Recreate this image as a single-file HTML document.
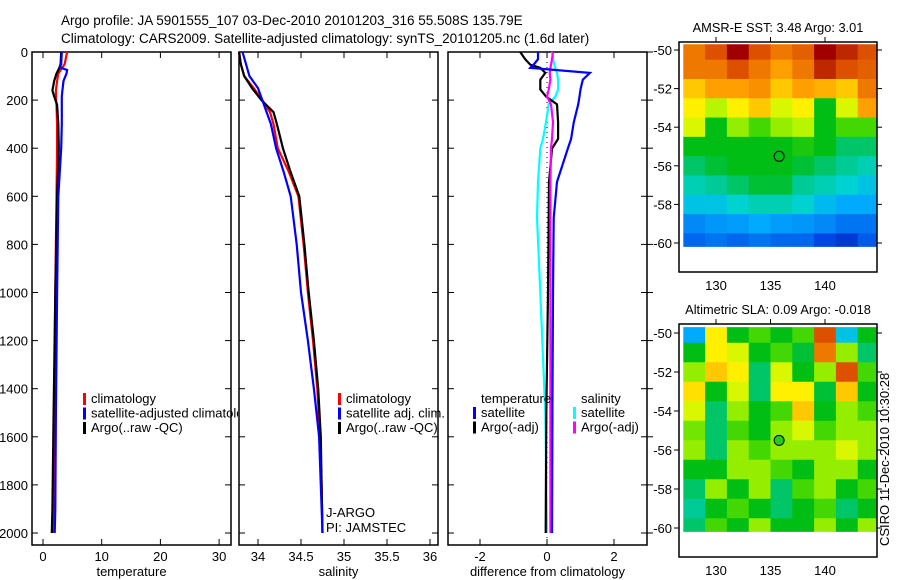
<!DOCTYPE html>
<html><head><meta charset="utf-8">
<style>
html,body{margin:0;padding:0;background:#fff;}
svg{display:block;font-family:"Liberation Sans",sans-serif;}
</style></head>
<body>
<svg id="fig" width="900" height="580" viewBox="0 0 900 580" xmlns="http://www.w3.org/2000/svg">
<text x="61" y="25" font-size="13.5">Argo profile: JA 5901555_107 03-Dec-2010 20101203_316 55.508S 135.79E</text>
<text x="61" y="43" font-size="13.5">Climatology: CARS2009. Satellite-adjusted climatology: synTS_20101205.nc (1.6d later)</text>
<defs><clipPath id="leg1clip"><rect x="32" y="0" width="206" height="580"/></clipPath></defs>
<g id="g"></g>
</svg>
<script>
// ---------- data ----------
const depthsT = [0,50,65,75,90,120,160,185,220,300,400,600,1000,1500,1900,2000];
const tempClim = [4.1,3.7,3.3,3.0,2.6,2.4,2.2,2.2,2.3,2.4,2.4,2.3,2.1,1.9,1.8,1.8];
const tempArgo = [3.1,3.0,2.8,2.6,2.3,1.9,1.6,1.9,2.4,2.6,2.7,2.4,2.1,1.8,1.6,1.5];
const tempSat  = [3.2,3.1,2.9,4.1,4.0,3.5,3.3,3.2,3.2,3.2,3.1,2.6,2.4,2.2,2.1,2.0];
const depthsS = [0,50,100,150,200,250,300,400,500,600,800,1000,1200,1400,1600,1800,2000];
const salClim = [33.78,33.80,33.84,33.95,34.05,34.14,34.18,34.23,34.36,34.47,34.53,34.58,34.64,34.69,34.72,34.74,34.75];
const salArgo = [33.78,33.80,33.84,33.93,34.04,34.18,34.22,34.29,34.38,34.48,34.54,34.59,34.65,34.70,34.73,34.74,34.75];
const salSat  = [33.82,33.86,33.90,34.00,34.05,34.10,34.15,34.21,34.30,34.38,34.45,34.50,34.58,34.65,34.71,34.73,34.75];
const depthsD = [0,30,53,66,87,115,156,185,218,292,361,402,540,690,1000,1500,2000];
const dTempSat  = [-0.27,-0.27,-0.4,-0.5,1.28,1.07,1.0,0.97,0.93,0.8,0.72,0.62,0.3,0.2,0.18,0.16,0.15];
const dTempArgo = [-0.8,-0.65,-0.5,-0.2,-0.05,-0.2,-0.2,-0.03,0.3,0.33,0.33,0.15,0.06,0.05,0.03,-0.02,-0.04];
const dSalSat   = [0.15,0.18,0.22,0.25,0.3,0.33,0.33,0.25,0.05,-0.03,-0.12,-0.2,-0.27,-0.3,-0.2,-0.05,0.0];
const dSalArgo  = [0.18,0.15,0.12,0.1,0.08,0.1,0.05,0.0,0.12,0.18,0.15,0.12,0.1,0.1,0.1,0.1,0.1];
const depthTicks = [0,200,400,600,800,1000,1200,1400,1600,1800,2000];
const tempTicks = [0,10,20,30];
const salTicks = [34,34.5,35,35.5,36];
const diffTicks = [-2,0,2];
const lonTicks = [130,135,140];
const latTicks = [-50,-52,-54,-56,-58,-60];
const mapLons = [128,130,132,134,136,138,140,142,144];
const mapLats = [-50,-51,-52,-53,-54,-55,-56,-57,-58,-59,-60];
const sst = [
[.85,.9,1.0,.9,.85,.88,1.0,.95,.9],
[.85,.85,.9,.85,.8,.85,.95,.9,.88],
[.75,.8,.8,.82,.75,.8,.78,.75,.85],
[.7,.62,.7,.75,.65,.7,.5,.65,.8],
[.65,.5,.6,.55,.6,.62,.5,.55,.55],
[.5,.5,.5,.5,.5,.52,.5,.45,.45],
[.45,.48,.5,.5,.5,.48,.45,.42,.4],
[.4,.42,.45,.48,.48,.42,.4,.38,.35],
[.35,.35,.38,.4,.4,.38,.33,.3,.3],
[.25,.27,.28,.3,.28,.27,.25,.22,.22],
[.2,.22,.2,.22,.2,.2,.15,.12,.18]];
const sla = [
[.3,.7,.5,.55,.5,.55,.9,.35,.5],
[.5,.7,.65,.5,.55,.48,.85,.6,.45],
[.6,.75,.7,.45,.65,.5,.6,.9,.55],
[.72,.5,.65,.45,.7,.7,.48,.75,.5],
[.65,.45,.6,.5,.55,.75,.5,.6,.55],
[.58,.45,.55,.5,.6,.65,.55,.6,.6],
[.6,.45,.6,.55,.6,.6,.6,.65,.6],
[.5,.5,.6,.6,.55,.5,.6,.6,.5],
[.45,.6,.5,.6,.45,.55,.6,.5,.55],
[.42,.5,.55,.5,.45,.5,.55,.45,.5],
[.45,.55,.5,.6,.5,.5,.6,.5,.6]];
const argoLon = 135.79, argoLat = -55.508;

// ---------- helpers ----------
const NS="http://www.w3.org/2000/svg";
const G=document.getElementById('g');
function el(tag,attrs,parent){const e=document.createElementNS(NS,tag);for(const k in attrs)e.setAttribute(k,attrs[k]);(parent||G).appendChild(e);return e;}
function txt(x,y,s,size,anchor,parent){const t=el('text',{x:x,y:y,'font-size':size,'text-anchor':anchor||'start'},parent);t.textContent=s;return t;}
const yD = d => 52 + d*0.2405;
function panel(name,x0,x1,xs,ticks,fmt,xlabel,showY){
  const g=el('g',{});
  
  
  el('rect',{x:x0,y:52,width:x1-x0,height:493,fill:'none',stroke:'#000','stroke-width':1.5},g);
  ticks.forEach(v=>{const x=xs(v);
    el('line',{x1:x,x2:x,y1:545,y2:539,stroke:'#000'},g);
    el('line',{x1:x,x2:x,y1:52,y2:58,stroke:'#000'},g);
    const t=txt(x,561,fmt(v),13,'middle',g);
    
    
  });
  depthTicks.forEach(d=>{const y=yD(d);
    el('line',{x1:x0,x2:x0+6,y1:y,y2:y,stroke:'#000'},g);
    el('line',{x1:x1,x2:x1-6,y1:y,y2:y,stroke:'#000'},g);
    if(showY){const t=txt(28,y+5,String(d),13,'end',g);
      
      }
  });
  const xl=txt((x0+x1)/2,576,xlabel,13,'middle',g);
  
  
  return g;
}
function line(g,xs,vals,depths,color,name){
  const pts=vals.map((v,i)=>xs(v).toFixed(1)+','+yD(depths[i]).toFixed(1)).join(' ');
  const p=el('polyline',{points:pts,fill:'none',stroke:color,'stroke-width':2.2,'stroke-linejoin':'miter'},g);
  
  
}
function legend(g,x,y,items){
  items.forEach((it,i)=>{
    el('rect',{x:x,y:y+i*14.5-10,width:3,height:12,fill:it[1]},g);
    const t=txt(x+8,y+i*14.5,it[0],13,'start',g);
    
    
  });
}

// ---------- panel 1: temperature ----------
const xT = v => 43 + v*5.87;
const p1=panel('temperature-panel',32,231,xT,tempTicks,String,'temperature',true);
line(p1,xT,tempClim,depthsT,'#f00','temp-climatology-line');
line(p1,xT,tempArgo,depthsT,'#000','temp-argo-line');
line(p1,xT,tempSat,depthsT,'#00f','temp-satellite-line');
const leg1=el('g',{'clip-path':'url(#leg1clip)'},p1);
legend(leg1,83,403,[['climatology','#f00'],['satellite-adjusted climatology','#00f'],['Argo(..raw -QC)','#000']]);

// ---------- panel 2: salinity ----------
const xS = v => 258 + (v-34)*86;
const p2=panel('salinity-panel',239,438,xS,salTicks,String,'salinity',false);
line(p2,xS,salClim,depthsS,'#f00','sal-climatology-line');
line(p2,xS,salArgo,depthsS,'#000','sal-argo-line');
line(p2,xS,salSat,depthsS,'#00f','sal-satellite-line');
legend(p2,338,403,[['climatology','#f00'],['satellite adj. clim.','#00f'],['Argo(..raw -QC)','#000']]);
txt(326,517,'J-ARGO',13,'start',p2);
txt(326,532,'PI: JAMSTEC',13,'start',p2);

// ---------- panel 3: differences ----------
const xDf = v => 547 + v*33.5;
const p3=panel('difference-panel',448,647,xDf,diffTicks,String,'difference from climatology',false);
el('line',{x1:xDf(0),x2:xDf(0),y1:52,y2:545,stroke:'#000','stroke-dasharray':'1,4'},p3);
line(p3,xDf,dSalSat,depthsD,'#0ff','dsal-satellite-line');
line(p3,xDf,dTempArgo,depthsD,'#000','dtemp-argo-line');
line(p3,xDf,dSalArgo,depthsD,'#f0f','dsal-argo-line');
line(p3,xDf,dTempSat,depthsD,'#00f','dtemp-satellite-line');
txt(481,403,'temperature',13,'start',p3);
legend(p3,473,417,[['satellite','#00f'],['Argo(-adj)','#000']]);
txt(581,403,'salinity',13,'start',p3);
legend(p3,573,417,[['satellite','#0ff'],['Argo(-adj)','#f0f']]);
depthTicks.forEach(d=>el('line',{x1:647,x2:653,y1:yD(d),y2:yD(d),stroke:'#000'},p3));

// ---------- maps ----------
const cmapStops=[[0,[0,0,140]],[0.15,[0,70,230]],[0.3,[0,170,255]],[0.38,[0,210,210]],[0.44,[0,200,120]],[0.5,[0,190,20]],[0.56,[80,220,0]],[0.63,[200,250,0]],[0.7,[255,240,0]],[0.8,[255,160,0]],[0.9,[220,80,0]],[1,[160,0,0]]];
function cmap(v){
  v=Math.max(0,Math.min(1,v));
  for(let i=1;i<cmapStops.length;i++){
    if(v<=cmapStops[i][0]){const a=cmapStops[i-1],b=cmapStops[i];const t=(v-a[0])/(b[0]-a[0]);
      return 'rgb('+a[1].map((c,k)=>Math.round(c+(b[1][k]-c)*t)).join(',')+')';}
  }
  return 'rgb(160,0,0)';
}
function map(name,top,bot,latY0,latScale,grid,title,circleFill){
  const g=el('g',{});
  
  
  const xm = lon => 716 + (lon-130)*10.9;
  const ym = lat => latY0 + (-50-lat)*latScale;
  const cid=name+'-clip';
  const cp=el('clipPath',{id:cid},g);
  el('rect',{x:680,y:ym(-49.7),width:197,height:ym(-60.2)-ym(-49.7)},cp);
  const cells=el('g',{'clip-path':`url(#${cid})`},g);
  grid.forEach((row,i)=>row.forEach((v,j)=>{
    const r=el('rect',{x:xm(mapLons[j]-1),y:ym(mapLats[i]+0.5),width:10.9*2+0.5,height:latScale+0.5,fill:cmap(v)},cells);
    
    
  }));
  el('rect',{x:679,y:top,width:198,height:bot-top,fill:'none',stroke:'#000','stroke-width':1.5},g);
  lonTicks.forEach(l=>{const x=xm(l);
    el('line',{x1:x,x2:x,y1:top,y2:top-5,stroke:'#000'},g);
    txt(x,bot+18,String(l),13,'middle',g);});
  latTicks.forEach(l=>{const y=ym(l);
    el('line',{x1:679,x2:674,y1:y,y2:y,stroke:'#000'},g);
    el('line',{x1:877,x2:882,y1:y,y2:y,stroke:'#000'},g);
    txt(672,y+5,String(l),13,'end',g);});
  const c=el('circle',{cx:xm(argoLon),cy:ym(argoLat),r:5,fill:circleFill,stroke:'#000','stroke-width':1},g);
  
  
  const t=txt(778,top-10,title,12.8,'middle',g);
  
  
}
map('sst-map',42,272,50,19.3,sst,'AMSR-E SST: 3.48 Argo: 3.01','none');
map('sla-map',324,557,333,19.5,sla,'Altimetric SLA: 0.09 Argo: -0.018','#2c2');
const stamp=txt(0,0,'CSIRO 11-Dec-2010 10:30:28',13,'start');
stamp.setAttribute('transform','translate(889,546) rotate(-90)');


</script>
</body></html>
